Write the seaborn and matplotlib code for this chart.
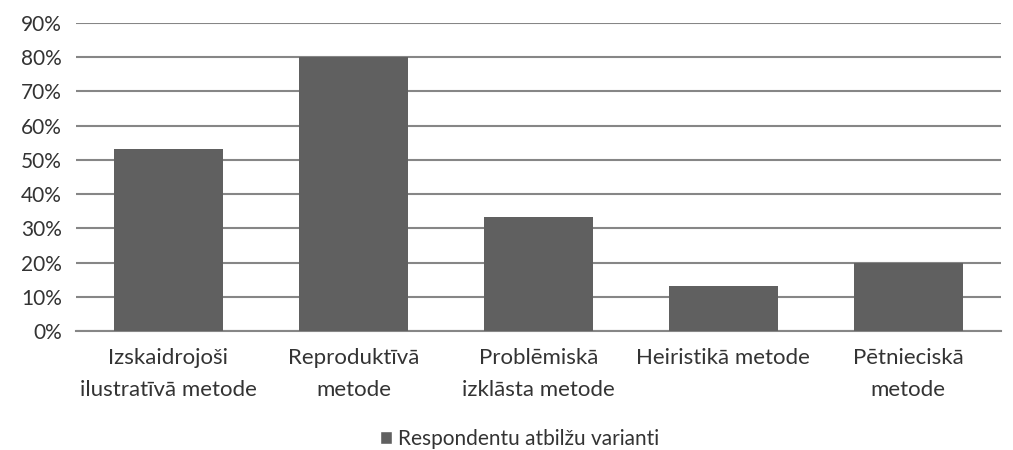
import numpy as np
import pandas as pd
import matplotlib
matplotlib.use("Agg")
import matplotlib.pyplot as plt
import seaborn as sns
from matplotlib.ticker import PercentFormatter
from matplotlib.patches import Patch

# Data
methods = [
    "Izskaidrojoši\nilustratīvā metode",
    "Reproduktīvā\nmetode",
    "Problēmiskā\nizklāsta metode",
    "Heiristikā metode",
    "Pētnieciskā\nmetode",
]
shares = [53.3, 80.0, 33.3, 13.3, 20.0]
series_name = "Respondentu atbilžu varianti"

df = pd.DataFrame({"metode": methods, "share": shares})

sns.set_style("white")
plt.rcParams["font.family"] = ["Lato", "DejaVu Sans"]

fig = plt.figure(figsize=(10.13, 4.5), dpi=100)
ax = fig.add_axes([0.075, 0.264, 0.913, 0.685])

bar_color = "#606060"
sns.barplot(data=df, x="metode", y="share", color=bar_color, width=0.59,
            saturation=1, edgecolor="none", linewidth=0, ax=ax, zorder=3)

ax.set_ylim(0, 90)
ax.set_yticks(np.arange(0, 91, 10))
ax.yaxis.set_major_formatter(PercentFormatter(decimals=0))
ax.grid(axis="y", color="#868686", linewidth=1.5, zorder=0)
ax.set_axisbelow(True)
for s in ["top", "right", "left"]:
    ax.spines[s].set_visible(False)
ax.spines["bottom"].set_color("#868686")
ax.spines["bottom"].set_linewidth(1.5)
ax.tick_params(axis="y", length=0, labelsize=15, colors="#333333", pad=10)
ax.tick_params(axis="x", length=0, labelsize=16, colors="#333333", pad=12)
for lbl in ax.get_xticklabels():
    lbl.set_linespacing(1.75)
    lbl.set_multialignment("center")
ax.set_xlabel("")
ax.set_ylabel("")

fig.legend(handles=[Patch(facecolor=bar_color, label=series_name)],
           loc="center", bbox_to_anchor=(0.513, 0.025), frameon=False,
           fontsize=15, handlelength=0.6, handleheight=0.6, handletextpad=0.3,
           labelcolor="#333333")

fig.savefig("out.png", dpi=100)
